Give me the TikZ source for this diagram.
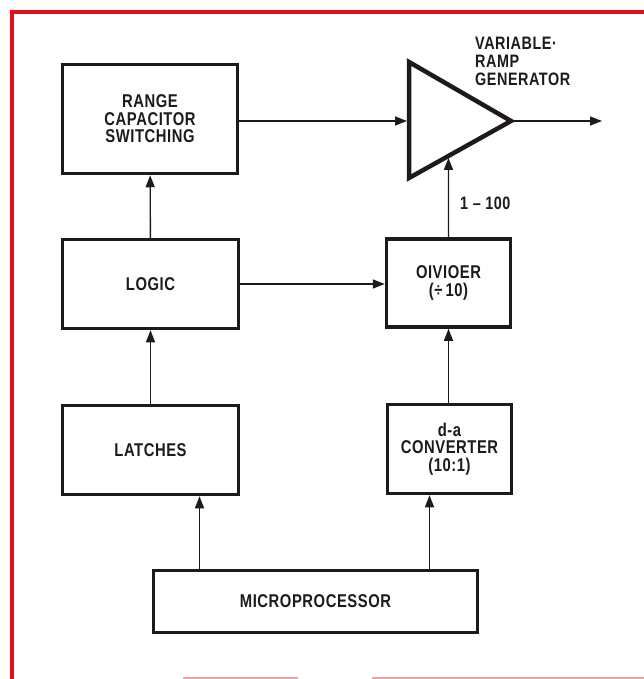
\documentclass[tikz,border=0pt]{standalone}
\usepackage{fontspec}
\setmainfont{Liberation Sans}[FakeStretch=0.8, LetterSpace=3]
\usepackage{xcolor}
\definecolor{frame}{HTML}{E3101B}
\definecolor{ink}{HTML}{1E1A1B}
\usetikzlibrary{arrows.meta, positioning, calc}
\newcommand{\blockfont}{\fontsize{18.5}{17.5}\selectfont\bfseries}
\newcommand{\tagfont}{\fontsize{18}{18}\selectfont\bfseries}
\tikzset{%
    block/.style={%
        draw=ink, line width=3.5pt, fill=white, align=center, text=ink, font=\blockfont,
    },
    sig/.style={%
        draw=ink, line width=1.4pt, -{Triangle[length=12pt, width=9pt]},
    },
    tag/.style={%
        text=ink, font=\tagfont, align=left,
    },
}

\begin{document}
\begin{tikzpicture}[
        x=1pt, y=-1pt,
        every node/.style={inner sep=0},
        edge/.style={frame, line width=4pt},
    ]
        \useasboundingbox (0,0) rectangle (644,679);

        % red page frame
        \draw[edge] (12,679) -- (12,12) -- (644,12);
        \draw[edge, frame!40, line width=2pt] (183,678) -- (298,678);
        \draw[edge, frame!40, line width=2pt] (372,678) -- (644,678);

        \node[block, minimum width=175pt, minimum height=109pt] (range) at (150,119) {RANGE\\CAPACITOR\\SWITCHING};
        \node[block, minimum width=176pt, minimum height=89pt] (logic) at (150.5,284) {LOGIC};
        \node[block, minimum width=176pt, minimum height=89pt] (latches) at (150.5,450) {LATCHES};
        \node[block, minimum width=124pt, minimum height=88pt] (divider) at (448.5,283) {OIVIOER\\(÷\,10)};
        \node[block, minimum width=124pt, minimum height=89pt] (dac) at (449.5,449) {d-a\\CONVERTER\\(10:1)};
        \node[block, minimum width=324pt, minimum height=62pt] (micro) at (315.5,601.5) {MICROPROCESSOR};

        % ramp generator triangle
        \coordinate (ramptop) at (409,62);
        \coordinate (rampbot) at (409,178);
        \coordinate (ramptip) at (511,121);
        \coordinate (rampin) at (409,121);
        \coordinate (rampout) at (602,121);
        \coordinate (rampfeed) at ($(ramptip)!0.613!(rampbot)$);
        \draw[ink, line width=4.5pt, line join=miter] (ramptop) -- (ramptip) -- (rampbot) -- cycle;

        \node[tag, anchor=north west] (ramplabel) at (475,37) {VARIABLE·\\RAMP\\GENERATOR};
        \node[tag, anchor=west] (gainlabel) at (460,203) {1 -- 100};

        \draw[sig, shorten >=2pt] (range.east |- rampin) -- (rampin);
        \draw[sig] (ramptip) -- (rampout);
        \draw[sig, shorten >=2pt] (divider.north) -- (rampfeed);
        \draw[sig] (logic) -- (range);
        \draw[sig] (latches) -- (logic);
        \draw[sig] (logic.east) -- (logic.east -| divider.west);
        \draw[sig] (dac.north -| divider) -- (divider.south);
        \draw[sig] ([xshift=-116pt]micro.north) -- ([xshift=-116pt]micro.north |- latches.south);
        \draw[sig] ([xshift=114pt]micro.north) -- ([xshift=114pt]micro.north |- dac.south);
    \end{tikzpicture}
\end{document}
